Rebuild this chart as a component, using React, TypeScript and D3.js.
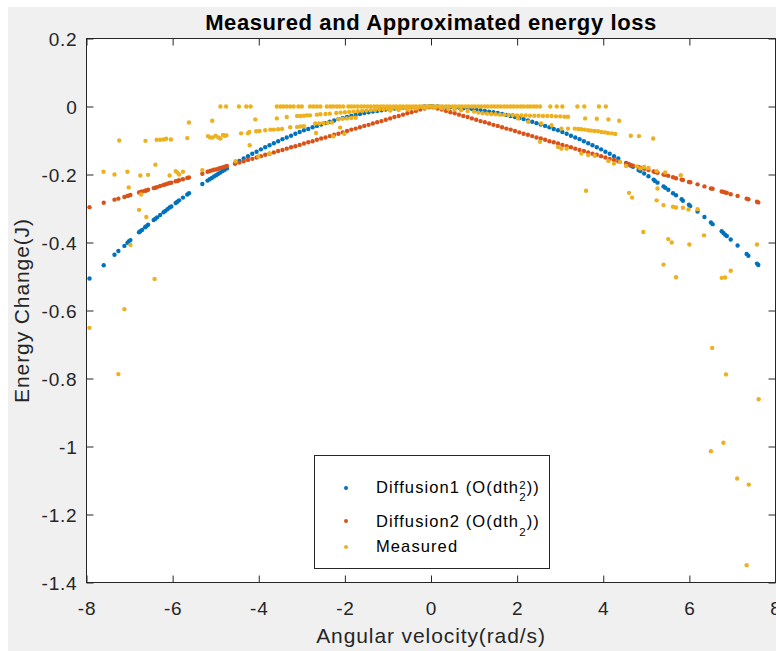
import React, { useEffect, useRef } from "react";
import * as d3 from "d3";

const width = 768;
const height = 644;
const plot = { left: 78.5, right: 767.5, top: 31.5, bottom: 575.5 };
const font = '"Liberation Sans", Arial, Helvetica, sans-serif';

const blue = "#0072BD";
const orange = "#D95319";
const yellow = "#EDB120";
const axisColor = "#262626";

const xTicks = [-8, -6, -4, -2, 0, 2, 4, 6, 8];
const yTicks = [0.2, 0, -0.2, -0.4, -0.6, -0.8, -1, -1.2, -1.4];

// angular velocity samples shared by both approximations
const velocity = [
  -7.93, -7.6, -7.35, -7.26, -7.12, -7.05, -7.02, -6.98, -6.78, -6.75,
  -6.71, -6.64, -6.61, -6.57, -6.44, -6.4, -6.36, -6.29, -6.21, -6.17,
  -6.12, -6.07, -6.03, -5.93, -5.89, -5.85, -5.76, -5.66, -5.62, -5.31,
  -5.19, -5.14, -5.09, -5.04, -4.99, -4.94, -4.89, -4.84, -4.79, -4.74,
  -4.55, -4.45, -4.35, -4.25, -4.15, -4.05, -3.95, -3.85, -3.75, -3.65,
  -3.55, -3.45, -3.35, -3.25, -3.15, -3.05, -2.95, -2.85, -2.75, -2.65,
  -2.55, -2.45, -2.35, -2.25, -2.15, -2.05, -1.95, -1.85, -1.75, -1.65,
  -1.55, -1.45, -1.35, -1.25, -1.15, -1.05, -0.95, -0.85, -0.75, -0.65,
  -0.55, -0.45, -0.35, -0.25, -0.15, -0.05, 0, 0.05, 0.15, 0.25,
  0.35, 0.45, 0.55, 0.65, 0.75, 0.85, 0.95, 1.05, 1.15, 1.25,
  1.35, 1.45, 1.55, 1.65, 1.75, 1.85, 1.95, 2.05, 2.15, 2.25,
  2.35, 2.45, 2.55, 2.65, 2.75, 2.85, 2.95, 3.05, 3.15, 3.25,
  3.35, 3.45, 3.55, 3.65, 3.75, 3.85, 3.95, 4.05, 4.15, 4.25,
  4.35, 4.53, 4.59, 4.64, 4.69, 4.82, 4.86, 4.95, 5.05, 5.17,
  5.2, 5.26, 5.4, 5.44, 5.51, 5.62, 5.69, 5.82, 5.85, 5.99,
  6.02, 6.19, 6.35, 6.5, 6.54, 6.75, 6.79, 6.83, 6.87, 6.96,
  7.12, 7.33, 7.37, 7.57, 7.6,
];

const diffusion1 = [
  -0.506, -0.467, -0.436, -0.425, -0.41, -0.401, -0.397, -0.393, -0.37, -0.367,
  -0.363, -0.355, -0.352, -0.348, -0.334, -0.33, -0.326, -0.319, -0.311, -0.307,
  -0.302, -0.297, -0.294, -0.284, -0.28, -0.276, -0.268, -0.259, -0.255, -0.228,
  -0.218, -0.214, -0.21, -0.206, -0.202, -0.198, -0.194, -0.19, -0.186, -0.182,
  -0.168, -0.16, -0.153, -0.146, -0.139, -0.133, -0.126, -0.12, -0.114, -0.108,
  -0.102, -0.096, -0.091, -0.086, -0.08, -0.075, -0.07, -0.066, -0.061, -0.057,
  -0.053, -0.049, -0.045, -0.041, -0.037, -0.034, -0.031, -0.028, -0.025, -0.022,
  -0.019, -0.017, -0.015, -0.013, -0.011, -0.009, -0.007, -0.006, -0.005, -0.003,
  -0.002, -0.002, -0.001, -0.001, 0, 0, 0, 0, 0, -0.001,
  -0.001, -0.002, -0.002, -0.003, -0.005, -0.006, -0.007, -0.009, -0.011, -0.013,
  -0.015, -0.017, -0.019, -0.022, -0.025, -0.028, -0.031, -0.034, -0.037, -0.041,
  -0.045, -0.049, -0.053, -0.057, -0.061, -0.066, -0.07, -0.075, -0.08, -0.086,
  -0.091, -0.096, -0.102, -0.108, -0.114, -0.12, -0.126, -0.133, -0.139, -0.146,
  -0.153, -0.166, -0.17, -0.174, -0.177, -0.187, -0.19, -0.197, -0.205, -0.215,
  -0.219, -0.224, -0.235, -0.239, -0.245, -0.255, -0.261, -0.273, -0.277, -0.289,
  -0.293, -0.309, -0.325, -0.341, -0.346, -0.367, -0.372, -0.377, -0.381, -0.391,
  -0.409, -0.434, -0.439, -0.462, -0.466,
];

const diffusion2 = [
  -0.296, -0.283, -0.274, -0.271, -0.266, -0.263, -0.262, -0.26, -0.253, -0.252,
  -0.25, -0.248, -0.247, -0.245, -0.24, -0.239, -0.237, -0.234, -0.231, -0.229,
  -0.227, -0.225, -0.224, -0.22, -0.219, -0.217, -0.214, -0.21, -0.209, -0.198,
  -0.192, -0.19, -0.188, -0.186, -0.185, -0.183, -0.181, -0.179, -0.177, -0.175,
  -0.168, -0.165, -0.161, -0.157, -0.154, -0.15, -0.146, -0.142, -0.139, -0.135,
  -0.131, -0.128, -0.124, -0.12, -0.117, -0.113, -0.109, -0.105, -0.102, -0.098,
  -0.094, -0.091, -0.087, -0.083, -0.08, -0.076, -0.072, -0.068, -0.065, -0.061,
  -0.057, -0.054, -0.05, -0.046, -0.043, -0.039, -0.035, -0.031, -0.028, -0.024,
  -0.02, -0.017, -0.013, -0.009, -0.006, -0.002, 0, -0.002, -0.006, -0.009,
  -0.013, -0.017, -0.02, -0.024, -0.028, -0.031, -0.035, -0.039, -0.043, -0.046,
  -0.05, -0.054, -0.057, -0.061, -0.065, -0.068, -0.072, -0.076, -0.08, -0.083,
  -0.087, -0.091, -0.094, -0.098, -0.102, -0.105, -0.109, -0.113, -0.117, -0.12,
  -0.124, -0.128, -0.131, -0.135, -0.139, -0.142, -0.146, -0.15, -0.154, -0.157,
  -0.161, -0.168, -0.17, -0.172, -0.174, -0.178, -0.18, -0.183, -0.187, -0.191,
  -0.193, -0.195, -0.2, -0.201, -0.204, -0.208, -0.211, -0.215, -0.216, -0.222,
  -0.223, -0.229, -0.235, -0.241, -0.242, -0.25, -0.251, -0.253, -0.254, -0.258,
  -0.263, -0.271, -0.273, -0.28, -0.282,
];

// measured [velocity, energy change]
const measuredLeft: [number, number][] = [
  [-7.93, -0.651], [-7.605, -0.192], [-7.35, -0.2], [-7.26, -0.787], [-7.24, -0.1],
  [-7.12, -0.596], [-7.05, -0.192], [-7.02, -0.238], [-6.98, -0.407], [-6.78, -0.304],
  [-6.75, -0.203], [-6.73, -0.259], [-6.63, -0.101], [-6.61, -0.325], [-6.57, -0.201],
  [-6.42, -0.507], [-6.4, -0.171], [-6.37, -0.098], [-6.29, -0.098], [-6.21, -0.097],
  [-6.15, -0.095], [-6.07, -0.203], [-6.04, -0.097], [-5.93, -0.19], [-5.89, -0.194],
  [-5.85, -0.2], [-5.76, -0.192], [-5.66, -0.093], [-5.62, -0.047], [-5.31, -0.187],
  [-5.18, -0.087], [-5.13, -0.091], [-5.08, -0.042], [-5.07, -0.091], [-5.0, -0.086],
  [-4.94, -0.091], [-4.89, -0.094], [-4.89, 0], [-4.83, -0.084], [-4.79, -0.086],
  [-4.76, 0], [-4.75, -0.085], [-4.54, -0.161], [-4.46, 0], [-4.41, -0.079],
  [-4.29, 0], [-4.25, -0.079], [-4.22, -0.075], [-4.21, -0.114], [-4.19, 0],
  [-4.08, -0.038], [-4.06, -0.073], [-4.01, -0.147], [-3.98, -0.072], [-3.85, -0.07],
  [-3.75, -0.138], [-3.73, -0.068], [-3.65, -0.068], [-3.55, -0.067], [-3.46, -0.066],
  [-3.27, -0.061], [-3.11, -0.06], [-3.03, -0.059], [-2.95, -0.058], [-2.69, -0.05],
  [-2.67, -0.078], [-2.6, -0.05], [-2.5, -0.049], [-2.4, -0.048], [-2.3, -0.047],
  [-2.27, -0.088], [-2.15, -0.037], [-2.11, -0.062], [-2.05, -0.036], [-2.01, -0.08],
  [-1.95, -0.035], [-1.85, -0.034], [-1.75, -0.033],
];

const measuredZeroLeft: [number, number][] = [
  [-3.58, 0], [-3.5, 0], [-3.43, 0], [-3.35, 0], [-3.27, 0], [-3.19, 0], [-3.08, 0],
  [-3.0, 0], [-2.81, 0], [-2.73, 0], [-2.65, 0], [-2.57, 0], [-2.42, 0], [-2.34, 0],
  [-2.27, 0], [-2.19, 0], [-2.12, 0], [-2.04, 0], [-1.92, 0], [-1.85, 0], [-1.78, 0],
  [-1.7, 0], [-1.62, 0], [-1.55, 0], [-1.47, 0], [-1.4, 0], [-1.32, 0], [-1.25, 0],
  [-1.17, 0], [-1.1, 0], [-1.02, 0], [-0.95, 0], [-0.87, 0], [-0.8, 0], [-0.72, 0],
  [-0.65, 0], [-0.57, 0], [-0.5, 0], [-0.42, 0], [-0.35, 0], [-0.27, 0], [-0.2, 0],
  [-0.12, 0], [-0.05, 0], [0, 0],
  [-3.58, -0.035], [-3.35, -0.031], [-3.11, -0.028], [-3.03, -0.028], [-2.95, -0.027],
  [-2.88, -0.026], [-2.81, -0.026], [-2.65, -0.024], [-2.57, -0.023], [-2.45, -0.022],
  [-2.35, -0.021], [-2.2, -0.019], [-2.1, -0.018], [-2.0, -0.017], [-1.9, -0.016],
  [-1.8, -0.015], [-1.7, -0.014], [-1.6, -0.013], [-1.5, -0.012], [-1.4, -0.011],
  [-1.3, -0.01], [-1.2, -0.009], [-1.1, -0.008], [-1.0, -0.007], [-0.9, -0.006],
  [-0.8, -0.005], [-0.7, -0.004], [-0.6, -0.003], [-0.5, -0.003], [-0.4, -0.002],
  [-0.3, -0.002], [-0.2, -0.001], [-0.1, -0.001],
  [-0.15, -0.004], [-0.35, -0.006], [-0.55, -0.008], [-0.75, -0.01], [-0.95, -0.012],
];

const measuredZeroRight: [number, number][] = [
  [0.05, 0], [0.12, 0], [0.2, 0], [0.27, 0], [0.35, 0], [0.42, 0], [0.5, 0], [0.57, 0],
  [0.65, 0], [0.72, 0], [0.8, 0], [0.87, 0], [0.95, 0], [1.02, 0], [1.1, 0], [1.17, 0],
  [1.25, 0], [1.32, 0], [1.4, 0], [1.47, 0], [1.55, 0], [1.62, 0], [1.7, 0], [1.77, 0],
  [1.85, 0], [1.92, 0], [2.0, 0], [2.08, 0], [2.15, 0], [2.23, 0], [2.3, 0], [2.38, 0],
  [2.45, 0], [2.53, 0], [2.77, 0], [2.92, 0], [3.05, 0], [3.4, 0], [3.56, 0], [3.9, 0],
  [4.06, 0],
  [0.1, -0.003], [0.25, -0.005], [0.4, -0.007], [0.55, -0.009], [0.7, -0.011],
  [0.85, -0.013], [1.0, -0.015], [1.1, -0.018], [1.2, -0.02], [1.3, -0.021],
  [1.4, -0.022], [1.5, -0.023], [1.6, -0.024], [1.7, -0.024], [1.8, -0.025],
  [1.9, -0.025], [2.0, -0.026], [2.1, -0.026], [2.2, -0.026], [2.3, -0.027],
  [2.4, -0.027], [2.5, -0.027], [2.6, -0.028], [2.7, -0.028], [2.8, -0.028],
  [2.9, -0.029], [3.0, -0.029], [3.1, -0.03], [3.18, -0.03], [3.58, -0.035],
  [3.85, -0.036], [4.12, -0.038], [4.37, -0.042],
];

const measuredRight: [number, number][] = [
  [2.02, -0.035], [2.26, -0.045], [2.56, -0.05], [2.8, -0.055], [3.03, -0.065],
  [3.18, -0.065], [3.34, -0.065], [3.42, -0.066], [3.49, -0.067], [3.57, -0.068],
  [3.65, -0.07], [3.72, -0.071], [3.8, -0.072], [3.88, -0.073], [3.96, -0.075],
  [4.04, -0.076], [4.11, -0.078], [4.2, -0.079], [4.28, -0.081], [4.64, -0.086],
  [4.83, -0.087], [5.16, -0.094],
  [2.53, -0.104], [2.95, -0.119], [3.03, -0.124], [3.15, -0.124], [3.49, -0.138],
  [3.65, -0.143], [3.8, -0.145], [4.12, -0.16], [4.25, -0.168], [4.39, -0.163],
  [4.53, -0.175], [4.78, -0.176], [4.86, -0.182], [4.95, -0.178], [5.05, -0.181],
  [5.24, -0.19], [5.44, -0.194], [5.8, -0.202],
  [3.6, -0.248], [4.6, -0.254], [4.67, -0.268], [4.93, -0.369], [5.26, -0.241],
  [5.24, -0.276], [5.4, -0.29], [5.62, -0.295], [5.69, -0.297], [5.85, -0.298],
  [5.98, -0.303], [6.19, -0.302], [5.51, -0.39], [5.59, -0.4], [6.0, -0.406],
  [6.34, -0.379], [5.4, -0.465], [5.69, -0.502], [6.75, -0.504], [6.83, -0.503],
  [6.96, -0.483], [7.57, -0.406], [6.53, -0.71], [6.85, -0.788], [7.61, -0.861],
  [6.79, -0.989], [6.5, -1.014], [7.11, -1.094], [7.38, -1.112], [7.33, -1.349],
];

const fmt = (d: number) => String(d);

export default function App() {
  const ref = useRef<SVGSVGElement>(null);

  useEffect(() => {
    const svg = d3.select(ref.current);
    svg.selectAll("*").remove();

    const x = d3.scaleLinear().domain([-8, 8]).range([plot.left, plot.right]);
    const y = d3.scaleLinear().domain([-1.4, 0.2]).range([plot.bottom, plot.top]);

    svg.append("rect").attr("width", width).attr("height", height).attr("fill", "#f0f0f0");
    svg
      .append("rect")
      .attr("x", plot.left)
      .attr("y", plot.top)
      .attr("width", plot.right - plot.left)
      .attr("height", plot.bottom - plot.top)
      .attr("fill", "#fff");

    const dots = (data: [number, number][], color: string) =>
      svg
        .append("g")
        .attr("fill", color)
        .selectAll("circle")
        .data(data)
        .join("circle")
        .attr("cx", d => x(d[0]))
        .attr("cy", d => y(d[1]))
        .attr("r", 2.2);

    dots(velocity.map((v, i) => [v, diffusion1[i]]), blue);
    dots(velocity.map((v, i) => [v, diffusion2[i]]), orange);
    dots([...measuredLeft, ...measuredZeroLeft, ...measuredZeroRight, ...measuredRight], yellow);

    // axes, ticks pointing inward on all four sides
    const styleAxis = (g: any) => {
      g.select(".domain").remove();
      g.selectAll(".tick line").attr("stroke", axisColor);
      g.selectAll("text")
        .attr("fill", axisColor)
        .attr("font-family", font)
        .attr("font-size", 19)
        .attr("letter-spacing", 0.8);
    };

    svg
      .append("g")
      .attr("transform", `translate(0,${plot.bottom})`)
      .call(d3.axisBottom(x).tickValues(xTicks).tickFormat(fmt as any).tickSizeInner(-7).tickSizeOuter(0))
      .call(styleAxis)
      .call((g: any) => g.selectAll("text").attr("y", 32.5).attr("dy", null));

    svg
      .append("g")
      .attr("transform", `translate(0,${plot.top})`)
      .call(d3.axisTop(x).tickValues(xTicks).tickFormat(() => "").tickSizeInner(-7).tickSizeOuter(0))
      .call(styleAxis);

    svg
      .append("g")
      .attr("transform", `translate(${plot.left},0)`)
      .call(d3.axisLeft(y).tickValues(yTicks).tickFormat(fmt as any).tickSizeInner(-7).tickSizeOuter(0))
      .call(styleAxis)
      .call((g: any) => g.selectAll("text").attr("x", -9).attr("dy", "0.38em"));

    svg
      .append("g")
      .attr("transform", `translate(${plot.right},0)`)
      .call(d3.axisRight(y).tickValues(yTicks).tickFormat(() => "").tickSizeInner(-7).tickSizeOuter(0))
      .call(styleAxis);

    svg
      .append("rect")
      .attr("x", plot.left)
      .attr("y", plot.top)
      .attr("width", plot.right - plot.left)
      .attr("height", plot.bottom - plot.top)
      .attr("fill", "none")
      .attr("stroke", axisColor)
      .attr("stroke-width", 1);

    const cx = (plot.left + plot.right) / 2;
    svg
      .append("text")
      .attr("x", cx)
      .attr("y", 22.5)
      .attr("text-anchor", "middle")
      .attr("font-family", font)
      .attr("font-weight", "bold")
      .attr("font-size", 22)
      .attr("letter-spacing", 0.6)
      .attr("fill", "#000")
      .text("Measured and Approximated energy loss");

    svg
      .append("text")
      .attr("x", cx)
      .attr("y", 636)
      .attr("text-anchor", "middle")
      .attr("font-family", font)
      .attr("font-size", 21)
      .attr("letter-spacing", 0.9)
      .attr("fill", axisColor)
      .text("Angular velocity(rad/s)");

    svg
      .append("text")
      .attr("transform", `translate(21,${(plot.top + plot.bottom) / 2}) rotate(-90)`)
      .attr("text-anchor", "middle")
      .attr("font-family", font)
      .attr("font-size", 21)
      .attr("letter-spacing", 0.9)
      .attr("fill", axisColor)
      .text("Energy Change(J)");

    // legend
    const lg = svg.append("g");
    lg.append("rect")
      .attr("x", 306.5)
      .attr("y", 448.5)
      .attr("width", 235)
      .attr("height", 113)
      .attr("fill", "#fff")
      .attr("stroke", axisColor);

    const entries = [
      { color: blue, cy: 481, base: 486.3 },
      { color: orange, cy: 514, base: 519.7 },
      { color: yellow, cy: 540, base: 545 },
    ];
    lg.selectAll("circle")
      .data(entries)
      .join("circle")
      .attr("cx", 338)
      .attr("cy", d => d.cy)
      .attr("r", 2)
      .attr("fill", d => d.color);

    const txt = (base: number) =>
      lg
        .append("text")
        .attr("x", 368)
        .attr("y", base)
        .attr("font-family", font)
        .attr("font-size", 16.5)
        .attr("letter-spacing", 1.1)
        .attr("fill", "#000");

    const t1 = txt(entries[0].base);
    t1.append("tspan").text("Diffusion1 (O(dth");
    t1.append("tspan").attr("dy", -4.5).attr("font-size", 11.5).text("2");
    t1.append("tspan").attr("dx", -7.5).attr("dy", 12).attr("font-size", 11.5).text("2");
    t1.append("tspan").attr("dy", -7.5).text("))");

    const t2 = txt(entries[1].base);
    t2.append("tspan").text("Diffusion2 (O(dth");
    t2.append("tspan").attr("dy", 9.3).attr("font-size", 11.5).text("2");
    t2.append("tspan").attr("dy", -9.3).text("))");

    txt(entries[2].base).text("Measured");
  }, []);

  return (
    <svg
      ref={ref}
      width={width}
      height={height}
      style={{ position: "absolute", left: 8, top: 7, display: "block" }}
    />
  );
}
